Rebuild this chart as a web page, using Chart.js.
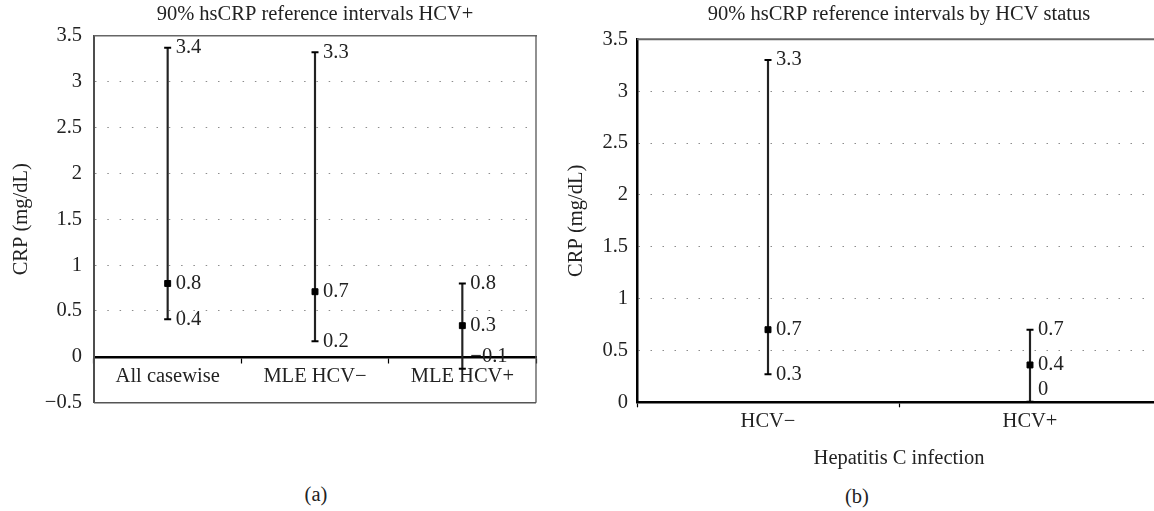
<!DOCTYPE html>
<html><head><meta charset="utf-8">
<script src="https://cdn.jsdelivr.net/npm/chart.js@4.4.1/dist/chart.umd.min.js"></script>
<style>
html,body{margin:0;padding:0;width:1154px;height:511px;overflow:hidden;background:#fff;}
#wa{position:absolute;left:0;top:0;width:560px;height:427px;}
#wb{position:absolute;left:560px;top:0;width:611px;height:480px;}
.cap{position:absolute;font-family:"Liberation Serif",serif;font-size:20.5px;color:#222;transform:translate(-50%,-50%);white-space:nowrap;}
</style></head><body>
<div id="wa"><canvas id="ca"></canvas></div>
<div id="wb"><canvas id="cb"></canvas></div>
<div class="cap" style="left:316px;top:494px">(a)</div>
<div class="cap" style="left:857px;top:496px">(b)</div>
<script>
// ---- data (a) ----
const categoriesA = ['All casewise', 'MLE HCV\u2212', 'MLE HCV+'];
const lowerA  = [0.41, 0.17, -0.13];
const medianA = [0.80, 0.71, 0.34];
const upperA  = [3.37, 3.32, 0.80];
const yTicksA = [-0.5, 0, 0.5, 1, 1.5, 2, 2.5, 3, 3.5];
const titleA = '90% hsCRP reference intervals HCV+';
// ---- data (b) ----
const categoriesB = ['HCV\u2212', 'HCV+'];
const lowerB  = [0.27, 0.005];
const medianB = [0.70, 0.36];
const upperB  = [3.30, 0.70];
const yTicksB = [0, 0.5, 1, 1.5, 2, 2.5, 3, 3.5];
const titleB = '90% hsCRP reference intervals by HCV status';
const yTitle = 'CRP (mg/dL)';
const xTitleB = 'Hepatitis C infection';

const FONT = {family: '"Liberation Serif", "Times New Roman", serif', size: 20.5};
const TXT = '#222';
const fmt = v => String(Number(v.toFixed(1))).replace('-', '\u2212');

function datasets(lower, median, upper) {
  return [
    {type: 'line', data: median, showLine: false, pointStyle: 'rect', pointRadius: 4.2,
     backgroundColor: '#000', borderColor: '#000', pointBorderWidth: 1, order: 0},
    {type: 'line', data: upper, showLine: false, pointStyle: 'line', pointRadius: 3.5,
     borderColor: '#000', pointBorderWidth: 2, order: 1},
    {type: 'line', data: lower, showLine: false, pointStyle: 'line', pointRadius: 3.5,
     borderColor: '#000', pointBorderWidth: 2, order: 2},
    {type: 'bar', data: lower.map((l, i) => [l, upper[i]]), backgroundColor: '#222',
     borderWidth: 0, barThickness: 1.5, order: 3}
  ];
}

function labelPlugin(lower, median, upper) {
  return {
    id: 'vals',
    afterDatasetsDraw(chart) {
      const {ctx} = chart;
      const ys = chart.scales.y;
      const pts = chart.getDatasetMeta(0).data;
      ctx.save();
      ctx.font = FONT.size + 'px ' + FONT.family;
      ctx.fillStyle = TXT;
      ctx.textAlign = 'left';
      ctx.textBaseline = 'middle';
      pts.forEach((p, i) => {
        [upper[i], median[i], lower[i]].forEach((v, k) => {
          let y = ys.getPixelForValue(v);
          if (k === 2 && v < 0.1) y -= 12; // keep low label clear of the category axis
          ctx.fillText(fmt(v), p.x + 8, y);
        });
      });
      ctx.restore();
    }
  };
}

function framePlugin(full) {
  return {
    id: 'frame',
    beforeDatasetsDraw(chart) {
      const {ctx, chartArea: a} = chart;
      ctx.save();
      ctx.strokeStyle = '#666'; ctx.lineWidth = full ? 1.5 : 2;
      ctx.beginPath(); ctx.moveTo(a.left, a.top); ctx.lineTo(a.right + 1, a.top); ctx.stroke();
      if (full) {
        ctx.strokeStyle = '#555'; ctx.lineWidth = 1.3;
        ctx.beginPath(); ctx.moveTo(a.right, a.top); ctx.lineTo(a.right, a.bottom); ctx.stroke();
        ctx.lineWidth = 1.5;
        ctx.beginPath(); ctx.moveTo(a.left, a.bottom); ctx.lineTo(a.right, a.bottom); ctx.stroke();
      }
      ctx.restore();
    }
  };
}

const gridColor = (hide) => (c) => (c.tick && hide.includes(c.tick.value)) ? 'rgba(0,0,0,0)' : '#8c8c8c';

new Chart(document.getElementById('ca'), {
  type: 'bar',
  data: {labels: categoriesA, datasets: datasets(lowerA, medianA, upperA)},
  options: {
    responsive: true, maintainAspectRatio: false, animation: false,
    layout: {autoPadding: false, padding: {left: 0, right: 24, top: 2, bottom: 8}},
    plugins: {
      legend: {display: false}, tooltip: {enabled: false},
      title: {display: true, text: titleA, fullSize: false, font: {...FONT, weight: 'normal'}, color: TXT,
              padding: {top: 0, bottom: 9.2}}
    },
    scales: {
      x: {
        type: 'category', position: {y: 0}, offset: true,
        grid: {offset: true, drawOnChartArea: false, drawTicks: true, tickLength: 5, tickColor: '#000', tickWidth: 1.2},
        border: {color: '#000', width: 2.5},
        ticks: {font: FONT, color: TXT, padding: 2.5, maxRotation: 0, autoSkip: false},
        afterFit: s => { s.height = 0; }
      },
      y: {
        min: -0.5, max: 3.5,
        afterBuildTicks: s => { s.ticks = yTicksA.map(v => ({value: v})); },
        ticks: {font: FONT, color: TXT, padding: 12, callback: v => String(v).replace('-', '\u2212')},
        grid: {color: gridColor([3.5, 0, -0.5]), lineWidth: 1, drawTicks: false},
        border: {color: '#4d4d4d', width: 2, dash: [1.5, 10.8]},
        title: {display: true, text: yTitle, font: FONT, color: TXT, padding: {top: 9.7, bottom: 0}},
        afterFit: s => { s.width = 94; }
      }
    }
  },
  plugins: [labelPlugin(lowerA, medianA, upperA), framePlugin(true)]
});

new Chart(document.getElementById('cb'), {
  type: 'bar',
  data: {labels: categoriesB, datasets: datasets(lowerB, medianB, upperB)},
  options: {
    responsive: true, maintainAspectRatio: false, animation: false,
    layout: {autoPadding: false, padding: {left: 0, right: 10, top: 2.7, bottom: 8.7}},
    plugins: {
      legend: {display: false}, tooltip: {enabled: false},
      title: {display: true, text: titleB, fullSize: false, font: {...FONT, weight: 'normal'}, color: TXT,
              padding: {top: 0, bottom: 12}}
    },
    scales: {
      x: {
        type: 'category', position: 'bottom', offset: true,
        grid: {offset: true, drawOnChartArea: false, drawTicks: true, tickLength: 5, tickColor: '#000', tickWidth: 1.2},
        border: {color: '#000', width: 2.5},
        ticks: {font: FONT, color: TXT, padding: 2.5, maxRotation: 0, autoSkip: false},
        title: {display: true, text: xTitleB, font: FONT, color: TXT, padding: {top: 0, bottom: 0}},
        afterFit: s => { s.height = 69; }
      },
      y: {
        min: 0, max: 3.5,
        afterBuildTicks: s => { s.ticks = yTicksB.map(v => ({value: v})); },
        ticks: {font: FONT, color: TXT, padding: 9, callback: v => String(v)},
        grid: {color: gridColor([3.5, 0]), lineWidth: 1, drawTicks: false},
        border: {color: '#000', width: 2.5, dash: [1.5, 10.5]},
        title: {display: true, text: yTitle, font: FONT, color: TXT, padding: {top: 4.7, bottom: 0}},
        afterFit: s => { s.width = 77; }
      }
    }
  },
  plugins: [labelPlugin(lowerB, medianB, upperB), framePlugin(false)]
});
</script>
</body></html>
